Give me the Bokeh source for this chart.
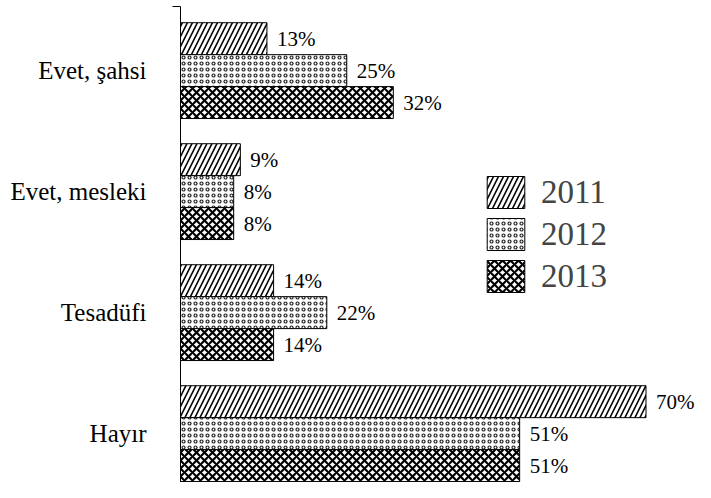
from bokeh.plotting import figure
from bokeh.models import ColumnDataSource, Range1d, Legend, LegendItem, FixedTicker
from bokeh.transform import dodge
from bokeh.core.properties import value
from bokeh.embed import file_html
from bokeh.resources import INLINE

categories = ["Evet, şahsi", "Evet, mesleki", "Tesadüfi", "Hayır"]
years = ["2011", "2012", "2013"]
v2011 = [13, 9, 14, 70]
v2012 = [25, 8, 22, 51]
v2013 = [32, 8, 14, 51]

series = [v2011, v2012, v2013]
cat_pos = list(range(len(categories)))

# styling
offsets = [-0.264, 0.0, 0.264]
bar_h = 0.264
patterns = ["right_diagonal_line", "ring", "diagonal_cross"]
hatch_scales = [10, 6, 8]
hatch_weights = [1.6, 1.2, 2.2]
hatch_colors = ["black", "#222222", "black"]
FONT = "Liberation Serif"

Y_TOP = -0.53
Y_BOT = Y_TOP + 476 / 121.0

p = figure(width=695, height=482, output_backend="svg", toolbar_location=None,
           y_range=Range1d(Y_BOT, Y_TOP), x_range=Range1d(0, 515 / 6.65),
           min_border_left=180, min_border_right=0, min_border_top=6, min_border_bottom=0)

items = []
for yr, vals, off, pat, hs, hw, hc in zip(years, series, offsets, patterns, hatch_scales, hatch_weights, hatch_colors):
    src = ColumnDataSource(dict(pos=cat_pos, val=vals, lab=[f"{v}%" for v in vals]))
    r = p.hbar(y=dodge("pos", off), right="val", left=0, height=bar_h, source=src,
               fill_color="white", line_color="black", line_width=1,
               hatch_pattern=pat, hatch_scale=hs, hatch_weight=hw, hatch_color=hc)
    p.text(x="val", y=dodge("pos", off), text="lab", source=src,
           x_offset=10, text_baseline="middle", text_align="left",
           text_font=value(FONT), text_font_size="21px", text_color="black")
    items.append(LegendItem(label=yr, renderers=[r]))

legend = Legend(items=items, location=(302, 186), padding=0, margin=0, spacing=2,
                glyph_width=47, glyph_height=40, label_standoff=12,
                label_text_font=FONT, label_text_font_size="33px",
                label_height=40, border_line_color=None, background_fill_alpha=0)
p.add_layout(legend, "center")

p.xaxis.visible = False
p.xgrid.visible = False
p.ygrid.visible = False
p.outline_line_color = None

yax = p.yaxis[0]
yax.ticker = FixedTicker(ticks=cat_pos, minor_ticks=[Y_TOP + 0.004])
yax.major_label_overrides = {i: c for i, c in zip(cat_pos, categories)}
yax.axis_line_color = "black"
yax.axis_line_width = 1
yax.major_tick_line_color = None
yax.major_tick_out = 0
yax.major_tick_in = 0
yax.minor_tick_line_color = "black"
yax.minor_tick_out = 8
yax.minor_tick_in = 0
yax.major_label_standoff = 26
yax.major_label_text_font = FONT
yax.major_label_text_font_size = "25px"
yax.major_label_text_color = "black"

open("out.html", "w").write(file_html(p, INLINE))
